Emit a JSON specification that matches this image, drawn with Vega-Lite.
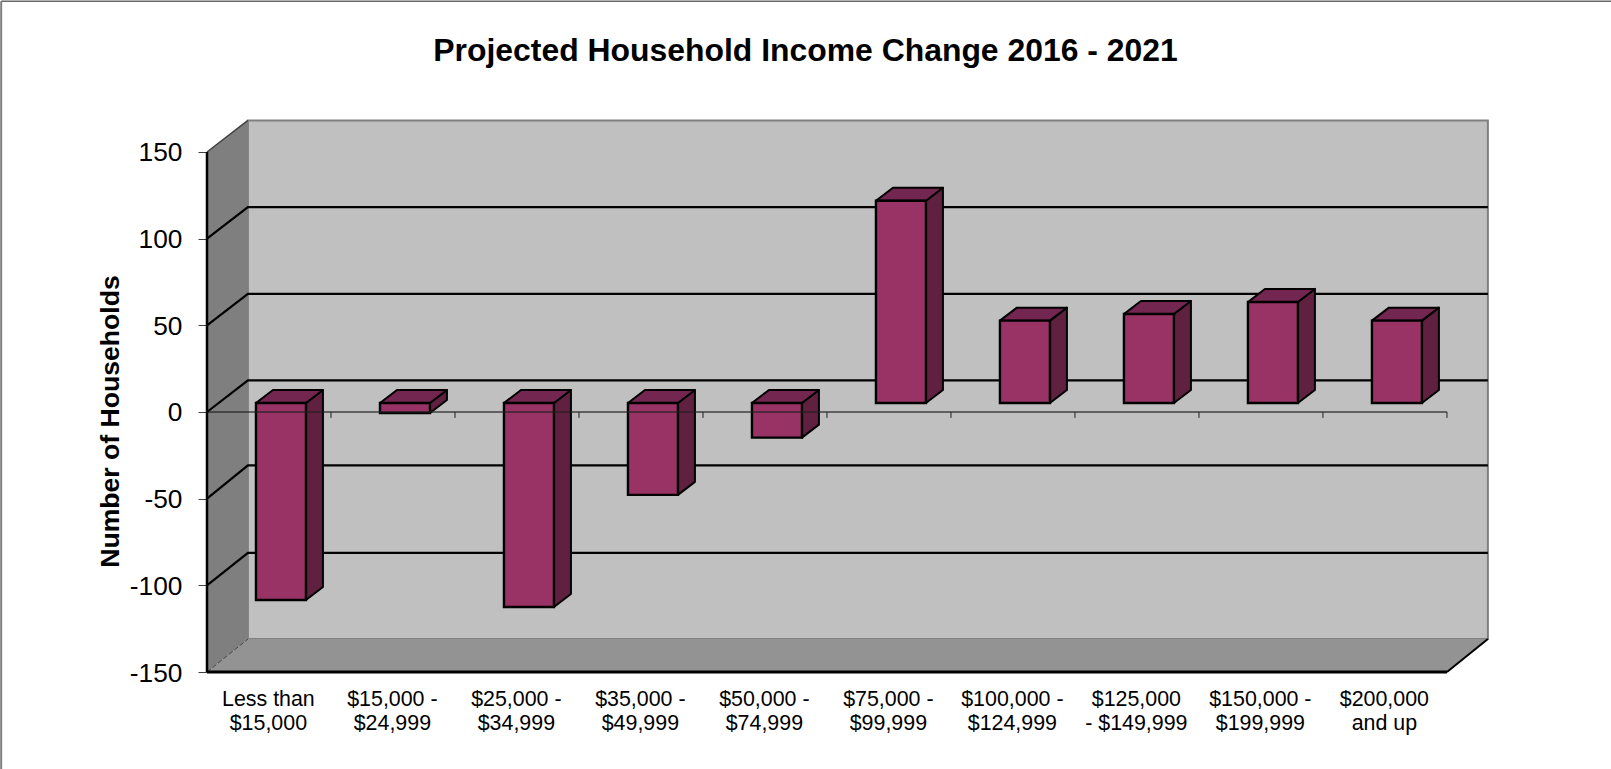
{
"$schema":"https://vega.github.io/schema/vega-lite/v6.json",
"width":1282,"height":552,"autosize":"none",
"padding":{"left":207,"top":120,"right":122,"bottom":97},
"background":"white",
"title":{"text":"Projected Household Income Change 2016 - 2021","font":"Liberation Sans","fontSize":31.9,"fontWeight":"bold","color":"black","anchor":"middle","dx":-42.5,"offset":-93,"baseline":"alphabetic"},
"config":{"view":{"stroke":null},"font":"Liberation Sans"},
"datasets":{
"bars":[
{"category":"Less than\n$15,000","order":0,"value":-113.7},
{"category":"$15,000 -\n$24,999","order":1,"value":-5.8},
{"category":"$25,000 -\n$34,999","order":2,"value":-117.7},
{"category":"$35,000 -\n$49,999","order":3,"value":-53},
{"category":"$50,000 -\n$74,999","order":4,"value":-20},
{"category":"$75,000 -\n$99,999","order":5,"value":116.7},
{"category":"$100,000 -\n$124,999","order":6,"value":47.5},
{"category":"$125,000\n- $149,999","order":7,"value":51.3},
{"category":"$150,000 -\n$199,999","order":8,"value":58.3},
{"category":"$200,000\nand up","order":9,"value":47.5}
],
"floor":[{"a":0,"lo":-150,"hi":-150},{"a":0.33,"lo":-150,"hi":-131},{"a":10,"lo":-150,"hi":-131},{"a":10.33,"lo":-131,"hi":-131}],
"side":[{"a":0,"lo":-150,"hi":150},{"a":0.33,"lo":-131,"hi":168.2}],
"grid":[
{"level":100,"a":0,"b":100},{"level":100,"a":0.33,"b":118.2},{"level":100,"a":10.33,"b":118.2},
{"level":50,"a":0,"b":50},{"level":50,"a":0.33,"b":68.2},{"level":50,"a":10.33,"b":68.2},
{"level":0,"a":0,"b":0},{"level":0,"a":0.33,"b":18.2},{"level":0,"a":10.33,"b":18.2},
{"level":-50,"a":0,"b":-50},{"level":-50,"a":0.33,"b":-30.8},{"level":-50,"a":10.33,"b":-30.8},
{"level":-100,"a":0,"b":-100},{"level":-100,"a":0.33,"b":-81.3},{"level":-100,"a":10.33,"b":-81.3}
],
"ticks":[{"t":1},{"t":2},{"t":3},{"t":4},{"t":5},{"t":6},{"t":7},{"t":8},{"t":9},{"t":10}]
},
"layer":[
{"data":{"values":[{}]},"mark":{"type":"rect","fill":"#c0c0c0","stroke":"#808080","strokeWidth":2},
 "encoding":{
 "x":{"datum":0.33,"type":"quantitative","scale":{"domain":[0,10.339],"nice":false,"zero":false},"axis":null},
 "x2":{"datum":10.33},
 "y":{"datum":-131,"type":"quantitative","scale":{"domain":[-150,168.46],"nice":false,"zero":false},
 "axis":{"values":[-150,-100,-50,0,50,100,150],"labelExpr":"''+datum.value","domain":false,"grid":false,"tickColor":"#404040","tickSize":9,"tickWidth":1,"labelFontSize":26.3,"labelFont":"Liberation Sans","labelColor":"black","labelPadding":16,"labelOffset":1,
 "title":"Number of Households","titleFont":"Liberation Sans","titleFontSize":26.6,"titleFontWeight":"bold","titleColor":"black","titleX":-97,"titleY":301,"titleAlign":"center","titleBaseline":"middle"}},
 "y2":{"datum":168.2}}},
{"data":{"name":"floor"},"mark":{"type":"area","fill":"#939393"},
 "encoding":{"x":{"field":"a","type":"quantitative","scale":{"domain":[0,10.339],"nice":false,"zero":false},"axis":null},
 "y":{"field":"hi","type":"quantitative","stack":null,"scale":{"domain":[-150,168.46],"nice":false,"zero":false}},"y2":{"field":"lo"}}},
{"data":{"name":"side"},"mark":{"type":"area","fill":"#7f7f7f"},
 "encoding":{"x":{"field":"a","type":"quantitative","scale":{"domain":[0,10.339],"nice":false,"zero":false},"axis":null},
 "y":{"field":"hi","type":"quantitative","stack":null,"scale":{"domain":[-150,168.46],"nice":false,"zero":false}},"y2":{"field":"lo"}}},
{"data":{"name":"grid"},"mark":{"type":"line","stroke":"black","strokeWidth":2.2},
 "encoding":{"x":{"field":"a","type":"quantitative","scale":{"domain":[0,10.339],"nice":false,"zero":false},"axis":null},
 "y":{"field":"b","type":"quantitative","scale":{"domain":[-150,168.46],"nice":false,"zero":false}},
 "detail":{"field":"level"}}},
{"data":{"values":[{"a":0,"b":150},{"a":0.33,"b":168.2}]},"mark":{"type":"line","stroke":"#404040","strokeWidth":1.5},
 "encoding":{"x":{"field":"a","type":"quantitative","scale":{"domain":[0,10.339],"nice":false,"zero":false},"axis":null},
 "y":{"field":"b","type":"quantitative","scale":{"domain":[-150,168.46],"nice":false,"zero":false}}}},
{"data":{"values":[{"a":0,"b":-150},{"a":0.33,"b":-131}]},"mark":{"type":"line","stroke":"#404040","strokeWidth":1,"strokeDash":[5,2]},
 "encoding":{"x":{"field":"a","type":"quantitative","scale":{"domain":[0,10.339],"nice":false,"zero":false},"axis":null},
 "y":{"field":"b","type":"quantitative","scale":{"domain":[-150,168.46],"nice":false,"zero":false}}}},
{"data":{"values":[{"a":10,"b":-150},{"a":10.33,"b":-131}]},"mark":{"type":"line","stroke":"black","strokeWidth":2},
 "encoding":{"x":{"field":"a","type":"quantitative","scale":{"domain":[0,10.339],"nice":false,"zero":false},"axis":null},
 "y":{"field":"b","type":"quantitative","scale":{"domain":[-150,168.46],"nice":false,"zero":false}}}},
{"data":{"name":"bars"},
 "transform":[{"calculate":"[0,1]","as":"k"},{"flatten":["k"]},
 {"calculate":"datum.order+0.798+datum.k*0.137","as":"sx"},
 {"calculate":"min(datum.value,0)+5.2+datum.k*7.5","as":"slo"},
 {"calculate":"max(datum.value,0)+5.2+datum.k*7.5","as":"shi"}],
 "mark":{"type":"area","fill":"#602040","stroke":"black","strokeWidth":2,"strokeJoin":"round"},
 "encoding":{"x":{"field":"sx","type":"quantitative","scale":{"domain":[0,10.339],"nice":false,"zero":false},"axis":null},
 "y":{"field":"shi","type":"quantitative","stack":null,"scale":{"domain":[-150,168.46],"nice":false,"zero":false}},"y2":{"field":"slo"},
 "detail":{"field":"order"}}},
{"data":{"name":"bars"},
 "transform":[{"calculate":"[0,1,2,3]","as":"k"},{"flatten":["k"]},
 {"calculate":"datum.order+0.395+[0,0.137,0.403,0.54][datum.k]","as":"tx"},
 {"calculate":"max(datum.value,0)+5.2+[0,7.5,7.5,7.5][datum.k]","as":"thi"},
 {"calculate":"max(datum.value,0)+5.2+[0,0,0,7.5][datum.k]","as":"tlo"}],
 "mark":{"type":"area","fill":"#732650","stroke":"black","strokeWidth":2,"strokeJoin":"round"},
 "encoding":{"x":{"field":"tx","type":"quantitative","scale":{"domain":[0,10.339],"nice":false,"zero":false},"axis":null},
 "y":{"field":"thi","type":"quantitative","stack":null,"scale":{"domain":[-150,168.46],"nice":false,"zero":false}},"y2":{"field":"tlo"},
 "detail":{"field":"order"}}},
{"data":{"name":"bars"},
 "transform":[{"calculate":"datum.order+0.395","as":"fx"},{"calculate":"datum.order+0.798","as":"fx2"},
 {"calculate":"datum.value+5.2","as":"fy"}],
 "mark":{"type":"rect","fill":"#993366","stroke":"black","strokeWidth":2.4},
 "encoding":{"x":{"field":"fx","type":"quantitative","scale":{"domain":[0,10.339],"nice":false,"zero":false},"axis":null},"x2":{"field":"fx2"},
 "y":{"field":"fy","type":"quantitative","scale":{"domain":[-150,168.46],"nice":false,"zero":false}},"y2":{"datum":5.2}}},
{"data":{"name":"ticks"},"mark":{"type":"rule","stroke":"#202020","strokeWidth":1},
 "encoding":{"x":{"field":"t","type":"quantitative","scale":{"domain":[0,10.339],"nice":false,"zero":false},"axis":null},
 "y":{"datum":0,"type":"quantitative","scale":{"domain":[-150,168.46],"nice":false,"zero":false}},"y2":{"datum":-3.4}}},
{"data":{"values":[{}]},"mark":{"type":"rule","stroke":"#202020","strokeWidth":1.6,"opacity":0.8},
 "encoding":{"x":{"datum":0,"type":"quantitative","scale":{"domain":[0,10.339],"nice":false,"zero":false},"axis":null},"x2":{"datum":10},
 "y":{"datum":0,"type":"quantitative","scale":{"domain":[-150,168.46],"nice":false,"zero":false}}}},
{"data":{"values":[{}]},"mark":{"type":"rule","stroke":"black","strokeWidth":3},
 "encoding":{"x":{"datum":0,"type":"quantitative","scale":{"domain":[0,10.339],"nice":false,"zero":false},"axis":null},"x2":{"datum":10},
 "y":{"datum":-150,"type":"quantitative","scale":{"domain":[-150,168.46],"nice":false,"zero":false}}}},
{"data":{"values":[{}]},"mark":{"type":"rule","stroke":"black","strokeWidth":2.5},
 "encoding":{"x":{"datum":0,"type":"quantitative","scale":{"domain":[0,10.339],"nice":false,"zero":false},"axis":null},
 "y":{"datum":-150,"type":"quantitative","scale":{"domain":[-150,168.46],"nice":false,"zero":false}},"y2":{"datum":150}}},
{"data":{"values":[{}]},"mark":{"type":"rule","stroke":"#666666","strokeWidth":1.5},
 "encoding":{"x":{"datum":-1.66,"type":"quantitative","scale":{"domain":[0,10.339],"nice":false,"zero":false},"axis":null},"x2":{"datum":11.33},
 "y":{"datum":237,"type":"quantitative","scale":{"domain":[-150,168.46],"nice":false,"zero":false}}}},
{"data":{"values":[{}]},"mark":{"type":"rule","stroke":"#808080","strokeWidth":2},
 "encoding":{"x":{"datum":-1.66,"type":"quantitative","scale":{"domain":[0,10.339],"nice":false,"zero":false},"axis":null},
 "y":{"datum":237,"type":"quantitative","scale":{"domain":[-150,168.46],"nice":false,"zero":false}},"y2":{"datum":-206}}},
{"data":{"name":"bars"},"transform":[{"calculate":"datum.order+0.495","as":"lx"}],
 "mark":{"type":"text","font":"Liberation Sans","fontSize":21.4,"color":"black","align":"center","baseline":"top","lineBreak":"\n","lineHeight":24,"dy":17},
 "encoding":{"x":{"field":"lx","type":"quantitative","scale":{"domain":[0,10.339],"nice":false,"zero":false},"axis":null},
 "y":{"datum":-150,"type":"quantitative","scale":{"domain":[-150,168.46],"nice":false,"zero":false}},
 "text":{"field":"category"}}}
]
}
